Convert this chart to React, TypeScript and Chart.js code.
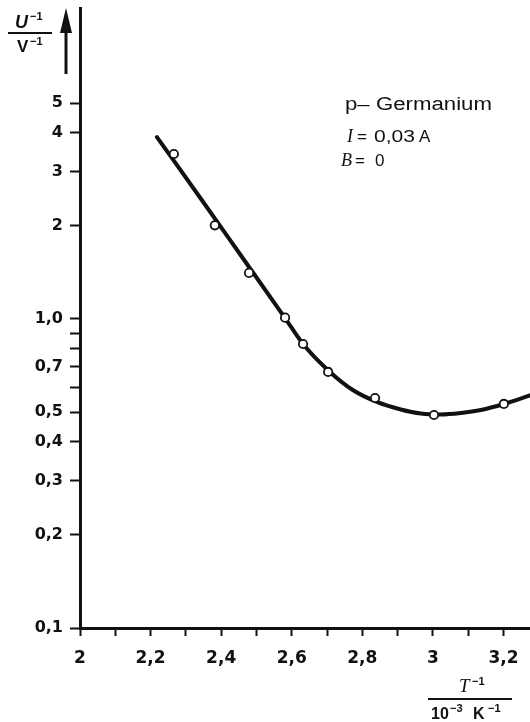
import React, { useEffect, useRef } from 'react';
import { Chart, registerables } from 'chart.js';

Chart.register(...registerables);

// Fitted curve
const curveX = [2.218, 2.343, 2.456, 2.581, 2.632, 2.705, 2.773, 2.841, 2.909, 2.966, 3.023, 3.079, 3.136, 3.201, 3.278];
const curveY = [3.88, 2.445, 1.605, 1.007, 0.83, 0.679, 0.589, 0.539, 0.5096, 0.4945, 0.4909, 0.4964, 0.5077, 0.5309, 0.5675];

// Measured points (open circles)
const pointX = [2.266, 2.382, 2.479, 2.581, 2.632, 2.703, 2.836, 3.003, 3.201];
const pointY = [3.42, 2.01, 1.41, 1.01, 0.83, 0.674, 0.555, 0.489, 0.531];

// Axis ticks
const xTickValues = [2, 2.1, 2.2, 2.3, 2.4, 2.5, 2.6, 2.7, 2.8, 2.9, 3, 3.1, 3.2];
const xTickLabels = ['2', '', '2,2', '', '2,4', '', '2,6', '', '2,8', '', '3', '', '3,2'];
const yTickValues = [0.1, 0.2, 0.3, 0.4, 0.5, 0.6, 0.7, 0.8, 0.9, 1, 2, 3, 4, 5];
const yTickLabels = ['0,1', '0,2', '0,3', '0,4', '0,5', '', '0,7', '', '', '1,0', '2', '3', '4', '5'];

const X_MIN = 2;
const X_MAX = 3.275;
const Y_MIN = 0.1;
const Y_MAX = 10.15;

function stretchText(ctx: CanvasRenderingContext2D, text: string, x: number, y: number, width: number) {
  const w = ctx.measureText(text).width;
  ctx.save();
  ctx.translate(x, y);
  ctx.scale(width / w, 1);
  ctx.fillText(text, 0, 0);
  ctx.restore();
}

const annotations = {
  id: 'annotations',
  afterDraw(chart: any) {
    const ctx = chart.ctx as CanvasRenderingContext2D;
    ctx.save();
    ctx.fillStyle = '#111';
    ctx.strokeStyle = '#111';
    ctx.textBaseline = 'alphabetic';
    ctx.textAlign = 'left';

    // Text block
    const sans = '"Liberation Sans", Arial, sans-serif';
    ctx.font = `18px ${sans}`;
    stretchText(ctx, 'p\u2013 Germanium', 345, 110, 147);
    ctx.font = 'italic 18px "Liberation Serif", serif';
    ctx.fillText('I', 347, 142);
    ctx.font = `17px ${sans}`;
    ctx.fillText('=', 357, 142);
    stretchText(ctx, '0,03', 374, 142, 41);
    ctx.fillText('A', 419, 142);
    ctx.font = 'italic 18px "Liberation Serif", serif';
    ctx.fillText('B', 341, 166);
    ctx.font = `17px ${sans}`;
    ctx.fillText('=', 355, 166);
    ctx.fillText('0', 375, 166);

    // Y axis quantity label U^-1 / V^-1
    ctx.font = `italic bold 18px ${sans}`;
    ctx.fillText('U', 15, 28);
    ctx.font = `bold 11px ${sans}`;
    ctx.fillText('\u22121', 30, 20);
    ctx.lineWidth = 2;
    ctx.beginPath();
    ctx.moveTo(8, 33);
    ctx.lineTo(52, 33);
    ctx.stroke();
    ctx.font = `bold 17px ${sans}`;
    ctx.fillText('V', 17, 52);
    ctx.font = `bold 11px ${sans}`;
    ctx.fillText('\u22121', 30, 45);

    // Arrow
    ctx.lineWidth = 3;
    ctx.beginPath();
    ctx.moveTo(66, 74);
    ctx.lineTo(66, 28);
    ctx.stroke();
    ctx.beginPath();
    ctx.moveTo(66, 8);
    ctx.lineTo(72, 33);
    ctx.lineTo(60, 33);
    ctx.closePath();
    ctx.fill();

    // X axis quantity label T^-1 / 10^-3 K^-1
    ctx.font = 'italic 19px "Liberation Serif", serif';
    ctx.fillText('T', 459, 692);
    ctx.font = `bold 11px ${sans}`;
    ctx.fillText('\u22121', 472, 685);
    ctx.lineWidth = 2;
    ctx.beginPath();
    ctx.moveTo(428, 699);
    ctx.lineTo(512, 699);
    ctx.stroke();
    ctx.font = `bold 16px ${sans}`;
    ctx.fillText('10', 431, 719);
    ctx.font = `bold 11px ${sans}`;
    ctx.fillText('\u22123', 450, 712);
    ctx.font = `bold 16px ${sans}`;
    ctx.fillText('K', 473, 719);
    ctx.font = `bold 11px ${sans}`;
    ctx.fillText('\u22121', 488, 712);

    ctx.restore();
  },
};

export default function App() {
  const canvasRef = useRef<HTMLCanvasElement | null>(null);

  useEffect(() => {
    const canvas = canvasRef.current;
    if (!canvas) return;
    const chart = new Chart(canvas, {
      type: 'scatter',
      data: {
        datasets: [
          {
            label: 'Messwerte',
            data: pointX.map((x, i) => ({ x, y: pointY[i] })),
            showLine: false,
            pointRadius: 4.2,
            pointBorderWidth: 1.8,
            pointBackgroundColor: '#fff',
            pointBorderColor: '#111',
            order: 0,
          },
          {
            label: 'Kurve',
            data: curveX.map((x, i) => ({ x, y: curveY[i] })),
            showLine: true,
            borderColor: '#111',
            borderWidth: 4,
            pointRadius: 0,
            cubicInterpolationMode: 'monotone',
            borderCapStyle: 'round',
            order: 1,
          },
        ],
      },
      options: {
        animation: false,
        responsive: false,
        devicePixelRatio: 1,
        layout: { autoPadding: false, padding: { top: 8, right: 0, left: 0, bottom: 0 } },
        plugins: {
          legend: { display: false },
          tooltip: { enabled: false },
        },
        scales: {
          x: {
            type: 'linear',
            min: X_MIN,
            max: X_MAX,
            afterBuildTicks: (scale: any) => {
              scale.ticks = xTickValues.map((v) => ({ value: v }));
            },
            afterFit: (scale: any) => {
              scale.height = 94;
              scale.paddingLeft = 0;
              scale.paddingRight = 0;
            },
            ticks: {
              autoSkip: false,
              maxRotation: 0,
              padding: 12,
              color: '#111',
              font: { family: '"DejaVu Sans", sans-serif', size: 17, weight: 'bold' },
              callback: (_v: any, i: number) => xTickLabels[i],
            },
            grid: {
              drawOnChartArea: false,
              drawTicks: true,
              tickLength: 8,
              tickWidth: 2,
              tickColor: '#111',
            },
            border: { display: true, width: 3, color: '#111' },
          },
          y: {
            type: 'logarithmic',
            min: Y_MIN,
            max: Y_MAX,
            afterBuildTicks: (scale: any) => {
              scale.ticks = yTickValues.map((v) => ({ value: v }));
            },
            afterFit: (scale: any) => {
              scale.width = 80;
              scale.paddingTop = 0;
              scale.paddingBottom = 0;
            },
            ticks: {
              autoSkip: false,
              padding: 7,
              color: '#111',
              font: { family: '"DejaVu Sans", sans-serif', size: 16, weight: 'bold' },
              callback: (_v: any, i: number) => yTickLabels[i],
            },
            grid: {
              drawOnChartArea: false,
              drawTicks: true,
              tickLength: 10,
              tickWidth: 2,
              tickColor: '#111',
            },
            border: { display: true, width: 3, color: '#111' },
          },
        },
      },
      plugins: [annotations],
    });
    return () => chart.destroy();
  }, []);

  return (
    <div style={{ position: 'fixed', left: 0, top: 0, width: 530, height: 722, background: '#fff', overflow: 'hidden' }}>
      <canvas ref={canvasRef} width={530} height={722} style={{ display: 'block' }} />
    </div>
  );
}
